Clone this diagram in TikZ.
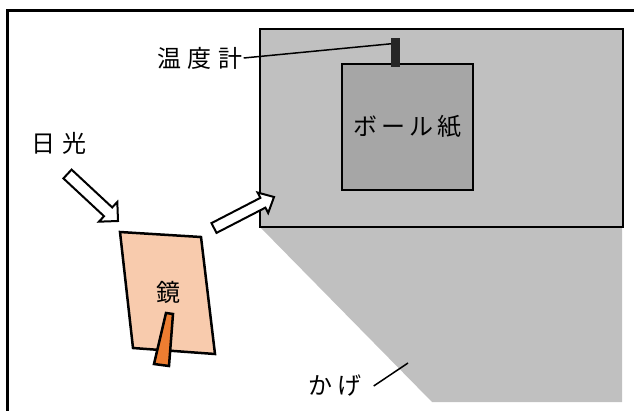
\documentclass[tikz,border=0pt]{standalone}
\usepackage{fontspec}
\newfontfamily\jpfont{Noto Sans CJK JP}
\usetikzlibrary{calc}
\definecolor{shadowgrey}{HTML}{C0C0C0}
\definecolor{board}{HTML}{A6A6A6}
\definecolor{meter}{HTML}{262626}
\definecolor{mirrorfill}{HTML}{F8CBAD}
\definecolor{handlefill}{HTML}{ED7D31}
\newcommand\gap[1][6pt]{\hspace{#1}}
% hollow block arrow: tail, tip, half shaft width, half head width, head length
\newcommand\hollowarrow[5]{%
  \coordinate (hb) at ($(#2)!#5!(#1)$);
  \draw[blockarrow] ($(#1)!#3!90:(#2)$) -- ($(hb)!#3!90:(#2)$)
    -- ($(hb)!#4!90:(#2)$) -- (#2) -- ($(hb)!#4!-90:(#2)$)
    -- ($(hb)!#3!-90:(#2)$) -- ($(#1)!#3!-90:(#2)$) -- cycle;}
\begin{document}
\begin{tikzpicture}[x=1pt,y=-1pt,
  jlabel/.style={font=\jpfont\fontsize{24}{28}\selectfont, inner sep=1pt},
  leader/.style={line width=1.5pt},
  blockarrow/.style={draw=black, fill=white, line width=2pt, line join=miter},
  solid outline/.style={draw=black, line width=2.5pt, line join=miter},
]
\useasboundingbox (0,0) rectangle (634,410);
\clip (0,0) rectangle (634,410);

% outer frame
\draw[line width=3pt] (7,420) -- (7,10) -- (650,10);

% shadow cast below the box
\fill[shadowgrey] (259,226) -- (622,226) -- (622,402) -- (432,402) -- cycle;

% box, cardboard and thermometer
\node[draw, fill=shadowgrey, line width=2pt, inner sep=0, minimum width=363, minimum height=198, anchor=north west] (box) at (259,28) {};
\node[draw, fill=board, line width=1.5pt, inner sep=0, minimum width=131, minimum height=126, jlabel] (board) at (407.5,127) {ボ\gap[4pt]ー\gap[4pt]ル\gap[4pt]紙};
\node[fill=meter, inner sep=0, minimum width=9, minimum height=29] (thermo) at (395.5,52.5) {};

% thermometer label
\node[jlabel] (thermlabel) at (200,58) {温\gap[6.5pt]度\gap[6.5pt]計};
\draw[leader] (thermlabel.east) -- ($(thermo.north west)+(0,6)$);

% sunlight and reflected light
\node[jlabel] (sun) at (59,143) {日\gap[8pt]光};
\coordinate (sunTail) at (67.5,174);
\coordinate (sunTip) at (118,221);
\hollowarrow{sunTail}{sunTip}{6pt}{13.5pt}{13.5pt}
\coordinate (reflTail) at (214,228);
\coordinate (reflTip) at (274,197);
\hollowarrow{reflTail}{reflTip}{5.5pt}{11.5pt}{12.5pt}

% mirror with its handle
\draw[solid outline, fill=mirrorfill] (120,232) -- (201,237) -- (215,354) -- (133,348) -- cycle;
\node[jlabel] (mirror) at (168,292) {鏡};
\draw[solid outline, fill=handlefill] (166,313) -- (173,314) -- (169,366) -- (154,364) -- cycle;

% shadow label
\node[jlabel] (kage) at (335,386) {か\gap[5pt]げ};
\coordinate (kageEnd) at (408,363);
\draw[leader] ($(kage.east)+(11,0)$) -- (kageEnd);
\end{tikzpicture}
\end{document}
